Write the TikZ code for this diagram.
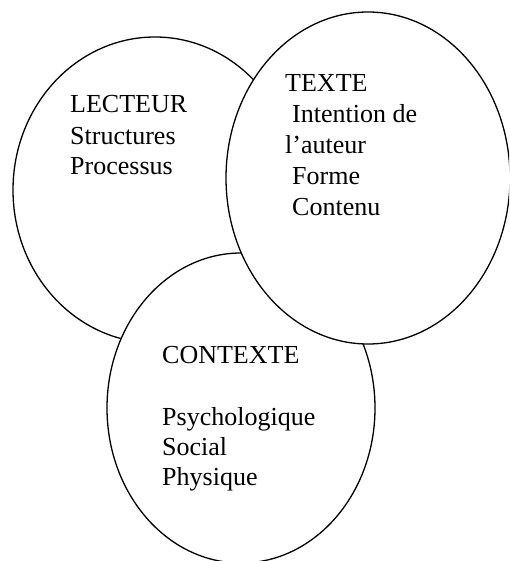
\documentclass[tikz,border=0pt]{standalone}
\usepackage{fontspec}
\setmainfont{Liberation Serif}
\begin{document}
\begin{tikzpicture}[x=1pt,y=-1pt,
  circ/.style={draw=black,fill=white,line width=1.3pt},
  lbl/.style={anchor=base west,inner sep=0pt,font=\fontsize{26}{30}\selectfont}]
\useasboundingbox (0,0) rectangle (509,561);
\clip (0,0) rectangle (509,561);
\filldraw[circ] (155,190) ellipse [x radius=142, y radius=153];
\filldraw[circ] (241,408) ellipse [x radius=134, y radius=155];
\filldraw[circ] (368,178) ellipse [x radius=142, y radius=166];
\node[lbl] (l1) at (70,113) {LECTEUR};
\node[lbl] (l2) at (70,145) {Structures};
\node[lbl] (l3) at (70,175) {Processus};
\node[lbl] (t1) at (285,92) {TEXTE};
\node[lbl] (t2) at (292,123) {Intention de};
\node[lbl] (t3) at (285,154) {l’auteur};
\node[lbl] (t4) at (292,185) {Forme};
\node[lbl] (t5) at (292,215) {Contenu};
\node[lbl] (c1) at (162,363) {CONTEXTE};
\node[lbl] (c2) at (162,425) {Psychologique};
\node[lbl] (c3) at (162,455) {Social};
\node[lbl] (c4) at (162,485) {Physique};
\end{tikzpicture}
\end{document}
